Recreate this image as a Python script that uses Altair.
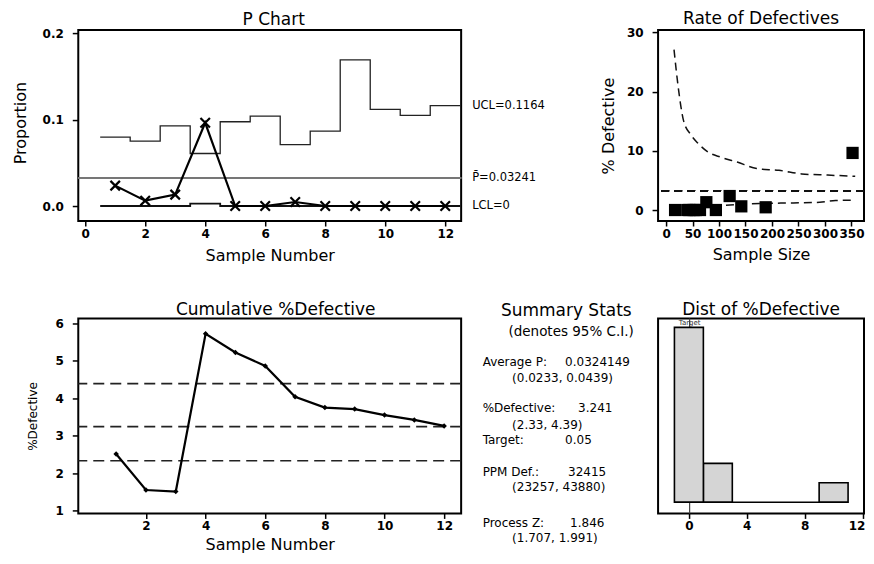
import altair as alt
import pandas as pd

FONT = "DejaVu Sans"

# ---------------- data ----------------
samples = list(range(1, 13))
proportion = [0.0236, 0.0062, 0.0132, 0.0964, 0.0, 0.0, 0.0046, 0.0, 0.0, 0.0, 0.0, 0.0]
ucl = [0.0797, 0.0751, 0.0929, 0.0608, 0.0976, 0.1041, 0.0712, 0.0867, 0.1692, 0.1119, 0.1049, 0.1164]
lcl = [0.0, 0.0, 0.0, 0.0027, 0.0, 0.0, 0.0, 0.0, 0.0, 0.0, 0.0, 0.0]
p_bar = 0.03241
limit_labels = ["UCL=0.1164", "P\u0304=0.03241", "LCL=0"]

sample_size = [120, 142, 76, 352, 64, 52, 188, 94, 17, 44, 56, 40]
upper_n = [15, 23, 33, 46, 61, 79, 104, 134, 171, 213, 256, 305, 357]
upper_pct = [27.1, 20.7, 15.1, 12.8, 11.2, 9.8, 8.9, 8.1, 7.0, 6.7, 6.1, 5.9, 5.7]
lower_n = [40, 60, 90, 130, 180, 240, 290, 320, 357]
lower_pct = [0.0, 0.3, 0.6, 0.9, 1.1, 1.2, 1.3, 1.6, 1.65]
pct_mean = 3.241

cum_pct = [2.51, 1.55, 1.51, 5.72, 5.22, 4.86, 4.04, 3.75, 3.71, 3.55, 3.42, 3.26]
ci_pct = [2.33, 4.39]

target = 0.05
stat_names = ["Average P:", "%Defective:", "Target:", "PPM Def.:", "Process Z:"]
stat_values = ["0.0324149", "3.241", "0.05", "32415", "1.846"]
stat_cis = ["(0.0233, 0.0439)", "(2.33, 4.39)", "", "(23257, 43880)", "(1.707, 1.991)"]

# ---------------- helpers ----------------
def ttl(text, dx=0):
    return alt.TitleParams(text, font=FONT, fontSize=17, fontWeight="normal",
                           color="black", frame="group", anchor="middle", offset=-1.5, dx=dx)

def yaxis(values, fmt, title, size, tx, ty):
    return alt.Axis(values=values, format=fmt, title=title, titleFontSize=size,
                    titleX=tx, titleY=ty, titleAngle=270, titleBaseline="middle",
                    titleAlign="center")

def xaxis(values, title, ty, last_shift=0):
    if title:
        return alt.Axis(values=values, format="d", title=title, titleY=ty,
                        titleBaseline="middle", titleAlign="center", labelFlush=False)
    return alt.Axis(values=values, format="d", title=None, labelFlush=False,
                    labelOffset={"condition": {"test": "datum.value == %d" % values[-1], "value": last_shift},
                                 "value": 0})

# ---------------- P chart ----------------
PW, PH = 383, 191
px_scale = alt.Scale(domain=[-0.23, 12.53], nice=False, zero=False)
py_scale = alt.Scale(domain=[-0.0174, 0.2038], nice=False, zero=False)
px_axis = xaxis([0, 2, 4, 6, 8, 10, 12], "Sample Number", 34)
py_axis = yaxis([0, 0.1, 0.2], ".1f", "Proportion", 16, -58, PH / 2 - 3)

def PX(f):
    return alt.X(f, type="quantitative", scale=px_scale, axis=px_axis)

def PY(f):
    return alt.Y(f, type="quantitative", scale=py_scale, axis=py_axis)

df_p = pd.DataFrame({"sample": samples, "p": proportion})
edges = [s - 0.5 for s in samples] + [samples[-1] + 0.5]
df_lim = pd.DataFrame({"edge": edges, "ucl": ucl + [ucl[-1]], "lcl": lcl + [lcl[-1]]})
df_lab = pd.DataFrame({"label": limit_labels, "v": [ucl[-1], p_bar, lcl[-1]]})

p_center = alt.Chart(df_p).mark_rule(color="#777777", strokeWidth=1).encode(y=alt.Y(datum=p_bar, scale=py_scale, axis=py_axis))
p_ucl = alt.Chart(df_lim).mark_line(color="#222222", strokeWidth=1.3, interpolate="step-after").encode(x=PX("edge"), y=PY("ucl"))
p_lcl = alt.Chart(df_lim).mark_line(color="#111111", strokeWidth=1.8, interpolate="step-after").encode(x=PX("edge"), y=PY("lcl"))
p_line = alt.Chart(df_p).mark_line(color="black", strokeWidth=2.2).encode(x=PX("sample"), y=PY("p"))
p_pts = alt.Chart(df_p).mark_point(shape="M-1,-1L1,1M-1,1L1,-1", size=90, strokeWidth=2.2,
                                   color="black", opacity=1).encode(x=PX("sample"), y=PY("p"))
p_text = alt.Chart(df_lab).mark_text(align="left", baseline="middle", font=FONT, fontSize=11.5,
                                     color="black").encode(x=alt.value(PW + 11), y=PY("v"), text="label:N")
p_chart = alt.layer(p_center, p_ucl, p_lcl, p_line, p_pts, p_text).properties(
    width=PW, height=PH, title=ttl("P Chart", dx=4))

# ---------------- spacer (top middle cell) ----------------
SW = 179
one = pd.DataFrame({"k": [0]})
spacer = alt.Chart(one).mark_point(opacity=0).encode(x=alt.value(0), y=alt.value(0)).properties(
    width=SW, height=PH, view=alt.ViewBackground(stroke="transparent"))

# ---------------- Rate of Defectives ----------------
RW, RH = 206, 191
rx_scale = alt.Scale(domain=[-15.1, 373.6], nice=False, zero=False)
ry_scale = alt.Scale(domain=[-1.86, 30.39], nice=False, zero=False)
rx_axis = xaxis([0, 50, 100, 150, 200, 250, 300, 350], "Sample Size", 33)
ry_axis = yaxis([0, 10, 20, 30], "d", "% Defective", 16, -50, RH / 2)

def RX(f):
    return alt.X(f, type="quantitative", scale=rx_scale, axis=rx_axis)

def RY(f):
    return alt.Y(f, type="quantitative", scale=ry_scale, axis=ry_axis)

df_rate = pd.DataFrame({"n": sample_size, "p": proportion})
df_up = pd.DataFrame({"n": upper_n, "pct": upper_pct})
df_lo = pd.DataFrame({"n": lower_n, "pct": lower_pct})

r_up = alt.Chart(df_up).mark_line(color="#111111", strokeWidth=1.5, strokeDash=[8, 5], interpolate="monotone").encode(x=RX("n"), y=RY("pct"))
r_lo = alt.Chart(df_lo).mark_line(color="#111111", strokeWidth=1.5, strokeDash=[8, 5], interpolate="monotone").encode(x=RX("n"), y=RY("pct"))
r_mid = alt.Chart(df_up).mark_rule(color="#111111", strokeWidth=1.5, strokeDash=[8, 5]).encode(y=alt.Y(datum=pct_mean, scale=ry_scale, axis=ry_axis))
r_pts = alt.Chart(df_rate).transform_calculate(pct="datum.p * 100").mark_point(
    shape="square", filled=True, size=150, color="black", opacity=1).encode(x=RX("n"), y=RY("pct"))
rate_chart = alt.layer(r_mid, r_up, r_lo, r_pts).properties(width=RW, height=RH, title=ttl("Rate of Defectives"))

# ---------------- Cumulative %Defective ----------------
CW, CH = 383, 195
cx_scale = alt.Scale(domain=[-0.27, 12.57], nice=False, zero=False)
cy_scale = alt.Scale(domain=[0.925, 6.128], nice=False, zero=False)
cx_axis = xaxis([2, 4, 6, 8, 10, 12], "Sample Number", 31)
cy_axis = yaxis([1, 2, 3, 4, 5, 6], "d", "%Defective", 12, -46, CH / 2)

def CX(f):
    return alt.X(f, type="quantitative", scale=cx_scale, axis=cx_axis)

def CY(f):
    return alt.Y(f, type="quantitative", scale=cy_scale, axis=cy_axis)

df_cum = pd.DataFrame({"sample": samples, "cum": cum_pct})
df_ref = pd.DataFrame({"v": [ci_pct[1], pct_mean, ci_pct[0]]})
c_ref = alt.Chart(df_ref).mark_rule(color="#222222", strokeWidth=1.6, strokeDash=[11, 6]).encode(y=CY("v"))
c_line = alt.Chart(df_cum).mark_line(color="black", strokeWidth=2.2).encode(x=CX("sample"), y=CY("cum"))
c_pts = alt.Chart(df_cum).mark_point(shape="diamond", filled=True, size=30, color="black", opacity=1).encode(x=CX("sample"), y=CY("cum"))
cum_chart = alt.layer(c_ref, c_line, c_pts).properties(width=CW, height=CH, title=ttl("Cumulative %Defective", dx=6))

# ---------------- Summary stats panel ----------------
label_y = [43.2, 89.8, 121.5, 153.2, 204.8]
ci_y = [59.8, 106.5, None, 168.2, 219.8]
value_x = [95, 108, 95, 98, 100]
TX = 12.5
txt_layers = [
    alt.Chart(one).mark_text(text="(denotes 95% C.I.)", font=FONT, fontSize=13.5, align="center",
                             baseline="middle", color="black").encode(x=alt.value(101), y=alt.value(13.5))
]
for i, name in enumerate(stat_names):
    txt_layers.append(alt.Chart(one).mark_text(text=name, font=FONT, fontSize=12, align="left", baseline="middle",
                                               color="black").encode(x=alt.value(TX), y=alt.value(label_y[i])))
    txt_layers.append(alt.Chart(one).mark_text(text=stat_values[i], font=FONT, fontSize=12, align="left",
                                               baseline="middle", color="black").encode(x=alt.value(value_x[i]), y=alt.value(label_y[i])))
    if stat_cis[i]:
        txt_layers.append(alt.Chart(one).mark_text(text=stat_cis[i], font=FONT, fontSize=12, align="left",
                                                   baseline="middle", color="black").encode(x=alt.value(TX + 29.5), y=alt.value(ci_y[i])))
stats_panel = alt.layer(*txt_layers).properties(
    width=SW, height=CH, title=ttl("Summary Stats", dx=6.7),
    view=alt.ViewBackground(stroke="transparent"))

# ---------------- Dist of %Defective ----------------
DW, DH = 206, 195
dx_scale = alt.Scale(domain=[-2.13, 12.1], nice=False, zero=False)
dy_scale = alt.Scale(domain=[-0.576, 9.455], nice=False, zero=False)
dx_axis = xaxis([0, 4, 8, 12], None, 0, last_shift=-6)

def DX(f):
    return alt.X(f, type="quantitative", scale=dx_scale, axis=dx_axis)

def DY(f):
    return alt.Y(f, type="quantitative", scale=dy_scale, axis=None)

df_hist = pd.DataFrame({"p": proportion})
hbase = alt.Chart(df_hist).transform_calculate(pct="datum.p * 100").transform_bin(
    ["b0", "b1"], "pct", bin=alt.Bin(extent=[-1, 11], step=2, nice=False))
d_target = alt.Chart(one).mark_rule(color="#444444", strokeWidth=1.2).encode(x=alt.X(datum=target, scale=dx_scale, axis=dx_axis))
d_bars = hbase.transform_aggregate(count="count()", groupby=["b0", "b1"]).mark_bar(
    fill="#d5d5d5", stroke="black", strokeWidth=1.6).encode(x=DX("b0"), x2="b1", y=DY("count"), y2=alt.datum(0))
d_base = hbase.transform_aggregate(lo="min(b0)", hi="max(b1)").mark_rule(
    color="black", strokeWidth=1.6).encode(x=DX("lo"), x2="hi", y=alt.Y(datum=0, scale=dy_scale, axis=None))
d_tlabel = alt.Chart(one).mark_text(text="Target", font=FONT, fontSize=7, baseline="middle",
                                    color="#333333").encode(x=alt.X(datum=target, scale=dx_scale, axis=dx_axis), y=alt.value(4.5))
dist_chart = alt.layer(d_target, d_bars, d_base, d_tlabel).properties(width=DW, height=DH, title=ttl("Dist of %Defective"))

# ---------------- assemble ----------------
chart = alt.concat(
    p_chart, spacer, rate_chart, cum_chart, stats_panel, dist_chart,
    columns=3, spacing={"row": 97.5, "column": 9}, bounds="flush", align="each",
).properties(
    padding={"left": 3.3, "top": 0, "right": 0, "bottom": 0},
    background="white",
).configure_view(stroke="black", strokeWidth=2).configure_axis(
    domain=False, grid=False,
    labelFont=FONT, labelFontSize=12, labelFontWeight="bold", labelColor="black",
    titleFont=FONT, titleFontSize=16, titleFontWeight="normal", titleColor="black",
    tickColor="black", tickWidth=1.5,
).configure_axisY(tickSize=6, labelPadding=9).configure_axisX(tickSize=5, labelPadding=2)

chart.save("out.html", embed_options={"renderer": "svg", "actions": False})
